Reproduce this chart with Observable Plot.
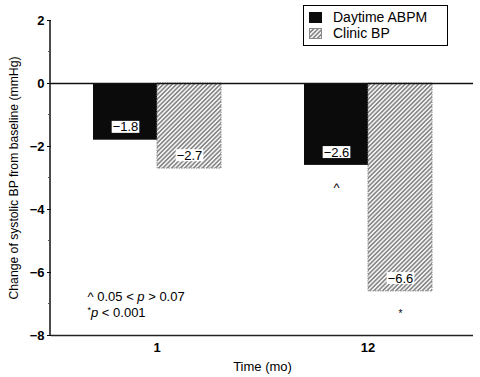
<!DOCTYPE html>
<html>
<head>
<meta charset="utf-8">
<script src="https://cdn.jsdelivr.net/npm/d3@7"></script>
<script src="https://cdn.jsdelivr.net/npm/@observablehq/plot@0.6"></script>
<style>
  body { margin: 0; background: #fff; font-family: "Liberation Sans", Arial, sans-serif; }
  #wrap { position: relative; width: 480px; height: 377px; }
  #legend { position: absolute; left: 303px; top: 5px; width: 143px; height: 39px; border: 1px solid #000; background: #fff; font-size: 14px; }
  #legend .row { position: absolute; left: 0; height: 14px; display: flex; align-items: center; white-space: nowrap; }
  #legend .row svg { margin-left: 5px; margin-right: 11px; }
</style>
</head>
<body>
<svg width="0" height="0" style="position:absolute">
  <defs>
    <pattern id="hatch" patternUnits="userSpaceOnUse" width="3.1" height="3.1" patternTransform="rotate(45)">
      <rect width="3.1" height="3.1" fill="#f2f2f2"></rect>
      <line x1="0.8" y1="0" x2="0.8" y2="3.1" stroke="#7c7c7c" stroke-width="1.4"></line>
    </pattern>
  </defs>
</svg>
<div id="wrap"></div>
<script>
const times = ["1", "12"];
const seriesNames = ["Daytime ABPM", "Clinic BP"];
const daytimeABPM = [-1.8, -2.6];
const clinicBP = [-2.7, -6.6];
const daytimeSig = ["", "^"];
const clinicSig = ["", "*"];
const yTicks = [2, 0, -2, -4, -6, -8];
const yMinorTicks = [1, -1, -3, -5, -7];
const footnotes = ["^ 0.05 < p > 0.07", "*p < 0.001"];
const yLabel = "Change of systolic BP from baseline (mmHg)";
const xLabel = "Time (mo)";

const rows = times.flatMap((t, i) => [
  {time: t, series: seriesNames[0], value: daytimeABPM[i], sig: daytimeSig[i]},
  {time: t, series: seriesNames[1], value: clinicBP[i], sig: clinicSig[i]}
]);
const fmt = d3.format(".1f");
const tickFmt = d3.format("d");
const marginLeft = 50;

const chart = Plot.plot({
  width: 480,
  height: 377,
  marginLeft,
  marginRight: 7,
  marginTop: 20,
  marginBottom: 42,
  style: {fontFamily: '"Liberation Sans", Arial, sans-serif', fontSize: "13px", background: "white", color: "black", overflow: "visible"},
  fx: {domain: times, paddingInner: 0, paddingOuter: 0, axis: "bottom", tickSize: 0, tickPadding: 7, label: xLabel, labelAnchor: "center", labelOffset: 35, labelArrow: false},
  x: {domain: seriesNames, paddingInner: 0, paddingOuter: 0.64, axis: null},
  y: {domain: [-8, 2], ticks: yTicks, tickSize: 4, tickPadding: 3, tickFormat: tickFmt, label: yLabel, labelAnchor: "center", labelOffset: 42, labelArrow: false},
  marks: [
    Plot.barY(rows.filter(d => d.series === seriesNames[0]), {fx: "time", x: "series", y: "value", fill: "#0b0b0b"}),
    Plot.barY(rows.filter(d => d.series === seriesNames[1]), {fx: "time", x: "series", y: "value", fill: "url(#hatch)", stroke: "#8a8a8a", strokeWidth: 1, strokeDasharray: "1.5,1"}),
    Plot.ruleY([0], {stroke: "#111", strokeWidth: 1.5}),
    Plot.ruleY([-8], {stroke: "#222", strokeWidth: 1.5}),
    Plot.text(rows, {fx: "time", x: "series", y: "value", text: d => fmt(d.value), dy: -13, fill: "black", fontSize: 13}),
    Plot.text(rows.filter(d => d.sig === "^"), {fx: "time", x: "series", y: "value", text: "sig", dy: 22, fontSize: 13, fill: "black"}),
    Plot.text(rows.filter(d => d.sig === "*"), {fx: "time", x: "series", y: "value", text: "sig", dy: 22, fontSize: 10, fill: "black"}),
    Plot.text([footnotes.join("\n")], {fx: [times[0]], frameAnchor: "bottom-left", dx: 36, dy: -19, textAnchor: "start", lineAnchor: "bottom", lineHeight: 1.18, fontSize: 13, fill: "black"})
  ]
});

const wrap = document.getElementById("wrap");
wrap.appendChild(chart);
const svg = d3.select(chart);

svg.selectAll('g[aria-label="y-axis tick label"] text, g[aria-label="fx-axis tick label"] text')
  .attr("font-weight", "bold").attr("font-size", 13);
svg.selectAll("text").filter(function() { return this.textContent === yLabel; }).attr("font-size", 12.2);

// y-axis line and minor ticks, positioned through Plot's y scale
const yScale = chart.scale("y");
const axisG = svg.append("g").attr("stroke", "#111").attr("fill", "none");
axisG.append("line")
  .attr("x1", marginLeft).attr("x2", marginLeft)
  .attr("y1", yScale.apply(d3.max(yTicks))).attr("y2", yScale.apply(d3.min(yTicks)))
  .attr("stroke-width", 1.5);
axisG.selectAll("line.minor").data(yMinorTicks).join("line")
  .attr("class", "minor")
  .attr("x1", marginLeft - 2).attr("x2", marginLeft)
  .attr("y1", d => yScale.apply(d)).attr("y2", d => yScale.apply(d))
  .attr("stroke-width", 1).attr("stroke", "#555");

// white boxes behind value labels
const labelSet = new Set(rows.map(d => fmt(d.value)));
svg.selectAll("text").filter(function() { return labelSet.has(this.textContent); }).each(function() {
  const b = this.getBBox();
  const r = document.createElementNS("http://www.w3.org/2000/svg", "rect");
  r.setAttribute("x", b.x - 1);
  r.setAttribute("y", b.y + 1.5);
  r.setAttribute("width", b.width + 2);
  r.setAttribute("height", b.height - 3);
  r.setAttribute("fill", "white");
  const tr = this.getAttribute("transform");
  if (tr) r.setAttribute("transform", tr);
  this.parentNode.insertBefore(r, this);
});

// italic p and superscript asterisk in footnote
const esc = s => s.replace(/&/g, "&amp;").replace(/</g, "&lt;").replace(/>/g, "&gt;");
svg.selectAll("tspan").filter(function() { return footnotes.includes(this.textContent); }).each(function() {
  let html = esc(this.textContent).replace(/\bp\b/g, '<tspan font-style="italic">p</tspan>');
  html = html.replace(/^\*/, '<tspan font-size="9" baseline-shift="4">*</tspan>');
  this.innerHTML = html;
});

// legend
const legend = document.createElement("div");
legend.id = "legend";
seriesNames.forEach((name, i) => {
  const row = document.createElement("div");
  row.className = "row";
  row.style.top = (i === 0 ? 4 : 20) + "px";
  const fill = i === 0 ? "#0b0b0b" : "url(#hatch)";
  row.innerHTML = `<svg width="13" height="11"><rect x="0.5" y="0.5" width="12" height="10" fill="${fill}" stroke="${i === 0 ? "#0b0b0b" : "#8a8a8a"}"></rect></svg><span>${name}</span>`;
  legend.appendChild(row);
});
wrap.appendChild(legend);
</script>
</body>
</html>
